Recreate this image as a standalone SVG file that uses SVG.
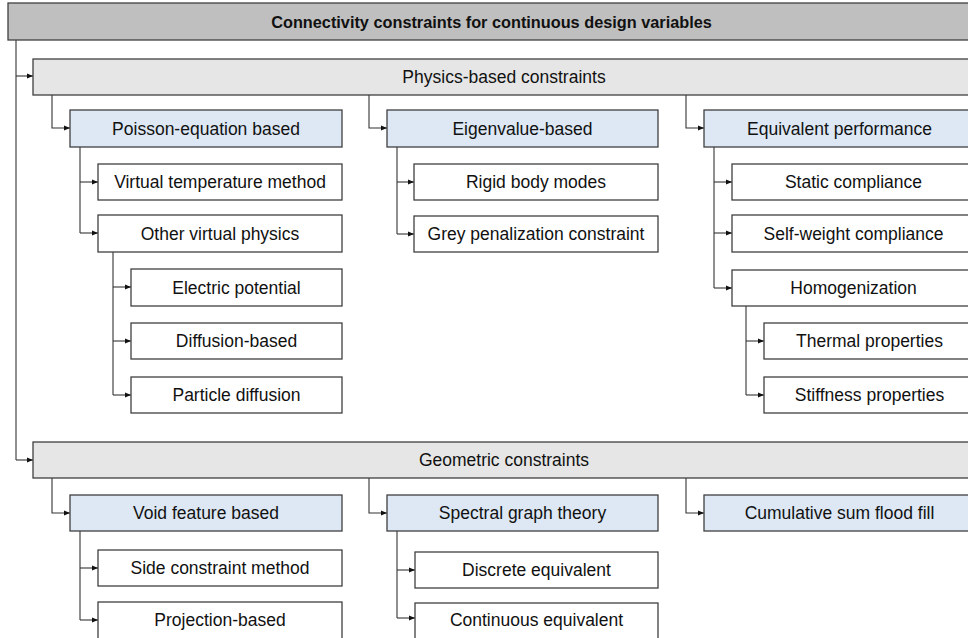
<svg xmlns="http://www.w3.org/2000/svg" width="968" height="638" viewBox="0 0 968 638">
<style>
  .box rect { stroke: #404040; stroke-width: 1.3; }
  .l0 rect { fill: #bfbfbf; }
  .l1 rect { fill: #e6e6e6; }
  .l2 rect { fill: #dde8f4; }
  .l3 rect { fill: #ffffff; }
  text { font-family: "Liberation Sans", Arial, sans-serif; font-size: 17.5px; fill: #111; text-anchor: middle; }
  .l0 text { font-weight: bold; font-size: 16.3px; }
  #connectors path { fill: none; stroke: #333; stroke-width: 1.1; }
</style>
<defs>
  <marker id="arr" viewBox="0 0 6 6" refX="6" refY="3" markerWidth="6" markerHeight="6" markerUnits="userSpaceOnUse" orient="auto">
    <path d="M0,0.5 L6,3 L0,5.5 Z" fill="#111"/>
  </marker>
</defs>
<rect width="968" height="638" fill="#ffffff"/>

<g id="connectors">
  <path d="M16,40 V460"/>
  <path d="M16,76 H33" marker-end="url(#arr)"/>
  <path d="M16,460 H33" marker-end="url(#arr)"/>
  <!-- physics level 2 -->
  <path d="M52,95 V128 H70" marker-end="url(#arr)"/>
  <path d="M369,95 V128 H387" marker-end="url(#arr)"/>
  <path d="M686,95 V128 H704" marker-end="url(#arr)"/>
  <!-- poisson -->
  <path d="M80,147 V233"/>
  <path d="M80,182 H98" marker-end="url(#arr)"/>
  <path d="M80,233 H98" marker-end="url(#arr)"/>
  <!-- other virtual physics -->
  <path d="M113,252 V395"/>
  <path d="M113,287 H131" marker-end="url(#arr)"/>
  <path d="M113,341 H131" marker-end="url(#arr)"/>
  <path d="M113,395 H131" marker-end="url(#arr)"/>
  <!-- eigenvalue -->
  <path d="M397,147 V234"/>
  <path d="M397,182 H414" marker-end="url(#arr)"/>
  <path d="M397,234 H414" marker-end="url(#arr)"/>
  <!-- equivalent performance -->
  <path d="M714,147 V288"/>
  <path d="M714,182 H732" marker-end="url(#arr)"/>
  <path d="M714,233 H732" marker-end="url(#arr)"/>
  <path d="M714,288 H732" marker-end="url(#arr)"/>
  <!-- homogenization -->
  <path d="M746,306 V395"/>
  <path d="M746,341 H764" marker-end="url(#arr)"/>
  <path d="M746,395 H764" marker-end="url(#arr)"/>
  <!-- geometric level 2 -->
  <path d="M52,478 V513 H70" marker-end="url(#arr)"/>
  <path d="M369,478 V513 H387" marker-end="url(#arr)"/>
  <path d="M686,478 V513 H704" marker-end="url(#arr)"/>
  <!-- void -->
  <path d="M80,531 V620"/>
  <path d="M80,568 H98" marker-end="url(#arr)"/>
  <path d="M80,620 H98" marker-end="url(#arr)"/>
  <!-- spectral -->
  <path d="M397,531 V618"/>
  <path d="M397,570 H415" marker-end="url(#arr)"/>
  <path d="M397,618 H415" marker-end="url(#arr)"/>
</g>

<g id="n-root" class="box l0"><rect x="8" y="3" width="967" height="37"/><text x="491.5" y="27.5">Connectivity constraints for continuous design variables</text></g>

<g id="n-physics" class="box l1"><rect x="33" y="59" width="942" height="36"/><text x="504" y="83">Physics-based constraints</text></g>
<g id="n-geometric" class="box l1"><rect x="33" y="442" width="942" height="36"/><text x="504" y="466">Geometric constraints</text></g>

<g id="n-poisson" class="box l2"><rect x="70" y="110" width="272" height="37"/><text x="206" y="134.5">Poisson-equation based</text></g>
<g id="n-eigen" class="box l2"><rect x="387" y="110" width="271" height="37"/><text x="522.5" y="134.5">Eigenvalue-based</text></g>
<g id="n-equiv" class="box l2"><rect x="704" y="110" width="271" height="37"/><text x="839.5" y="134.5">Equivalent performance</text></g>

<g id="n-vtm" class="box l3"><rect x="98" y="164" width="244" height="36"/><text x="220" y="188">Virtual temperature method</text></g>
<g id="n-ovp" class="box l3"><rect x="98" y="215" width="244" height="37"/><text x="220" y="239.5">Other virtual physics</text></g>
<g id="n-electric" class="box l3"><rect x="131" y="269" width="211" height="37"/><text x="236.5" y="293.5">Electric potential</text></g>
<g id="n-diffusion" class="box l3"><rect x="131" y="323" width="211" height="36"/><text x="236.5" y="347">Diffusion-based</text></g>
<g id="n-particle" class="box l3"><rect x="131" y="377" width="211" height="36"/><text x="236.5" y="401">Particle diffusion</text></g>

<g id="n-rigid" class="box l3"><rect x="414" y="164" width="244" height="36"/><text x="536" y="188">Rigid body modes</text></g>
<g id="n-grey" class="box l3"><rect x="414" y="216" width="244" height="36"/><text x="536" y="240">Grey penalization constraint</text></g>

<g id="n-static" class="box l3"><rect x="732" y="164" width="243" height="36"/><text x="853.5" y="188">Static compliance</text></g>
<g id="n-selfweight" class="box l3"><rect x="732" y="215" width="243" height="37"/><text x="853.5" y="239.5">Self-weight compliance</text></g>
<g id="n-homog" class="box l3"><rect x="732" y="270" width="243" height="36"/><text x="853.5" y="294">Homogenization</text></g>
<g id="n-thermal" class="box l3"><rect x="764" y="323" width="211" height="36"/><text x="869.5" y="347">Thermal properties</text></g>
<g id="n-stiffness" class="box l3"><rect x="764" y="377" width="211" height="36"/><text x="869.5" y="401">Stiffness properties</text></g>

<g id="n-void" class="box l2"><rect x="70" y="495" width="272" height="36"/><text x="206" y="519">Void feature based</text></g>
<g id="n-spectral" class="box l2"><rect x="387" y="495" width="271" height="36"/><text x="522.5" y="519">Spectral graph theory</text></g>
<g id="n-cumsum" class="box l2"><rect x="704" y="495" width="271" height="36"/><text x="839.5" y="519">Cumulative sum flood fill</text></g>

<g id="n-side" class="box l3"><rect x="98" y="550" width="244" height="36"/><text x="220" y="574">Side constraint method</text></g>
<g id="n-projection" class="box l3"><rect x="98" y="602" width="244" height="40"/><text x="220" y="626">Projection-based</text></g>
<g id="n-discrete" class="box l3"><rect x="415" y="552" width="243" height="36"/><text x="536.5" y="576">Discrete equivalent</text></g>
<g id="n-continuous" class="box l3"><rect x="415" y="603" width="243" height="40"/><text x="536.5" y="626">Continuous equivalent</text></g>
</svg>
